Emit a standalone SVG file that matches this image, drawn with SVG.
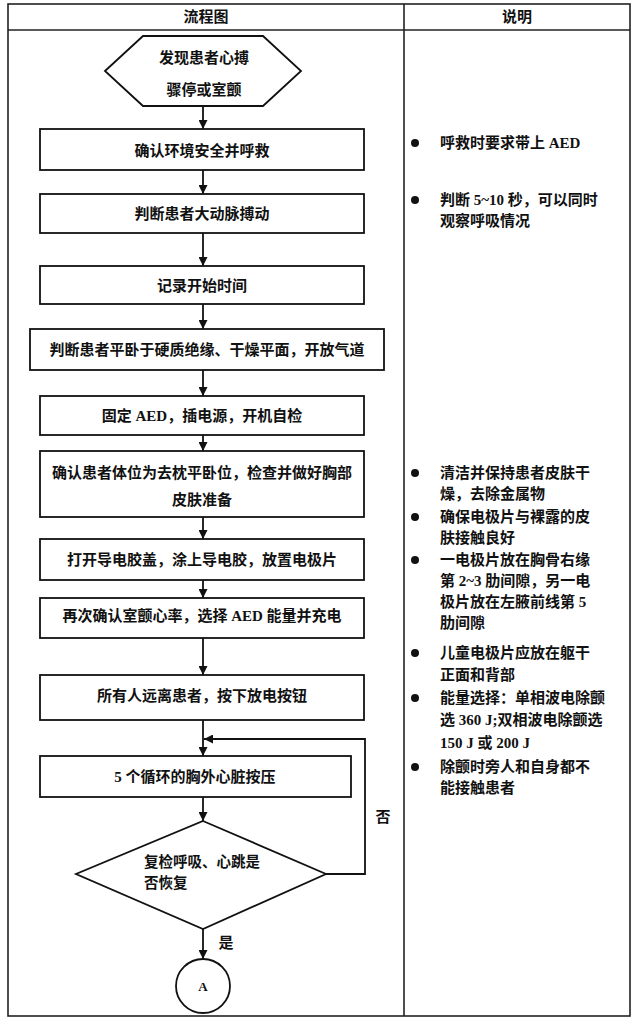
<svg xmlns="http://www.w3.org/2000/svg" width="637" height="1024" viewBox="0 0 637 1024">
<style>
  .t { font-family: 'Liberation Serif', 'Noto Sans CJK SC', serif; font-size: 15px; font-weight: bold; fill: #111; }
  .c { text-anchor: middle; dominant-baseline: central; }
  .l { text-anchor: start; dominant-baseline: central; }
  .box { fill: #fff; stroke: #111; stroke-width: 1.8; }
  .grid { fill: none; stroke: #222; stroke-width: 1.6; }
  .conn { fill: none; stroke: #111; stroke-width: 1.8; }
  .dot { fill: #111; }
</style>
<defs>
  <marker id="arr" markerUnits="userSpaceOnUse" markerWidth="9" markerHeight="9" refX="9" refY="4.5" orient="auto">
    <path d="M0,0 L9,4.5 L0,9 z" fill="#111"/>
  </marker>
</defs>
<rect width="637" height="1024" fill="#fff"/>
<g id="table">
  <rect class="grid" x="8" y="4" width="622" height="1012"/>
  <line class="grid" x1="8" y1="30" x2="630" y2="30"/>
  <line class="grid" x1="404" y1="4" x2="404" y2="1016"/>
  <text class="t c" x="206" y="17">流程图</text>
  <text class="t c" x="517" y="17">说明</text>
</g>
<g id="connectors">
  <line class="conn" x1="203" y1="106" x2="203" y2="129" marker-end="url(#arr)"/>
  <line class="conn" x1="203" y1="170" x2="203" y2="194" marker-end="url(#arr)"/>
  <line class="conn" x1="203" y1="233" x2="203" y2="266" marker-end="url(#arr)"/>
  <line class="conn" x1="203" y1="304" x2="203" y2="329" marker-end="url(#arr)"/>
  <line class="conn" x1="203" y1="370" x2="203" y2="396" marker-end="url(#arr)"/>
  <line class="conn" x1="203" y1="435" x2="203" y2="451" marker-end="url(#arr)"/>
  <line class="conn" x1="203" y1="517" x2="203" y2="539" marker-end="url(#arr)"/>
  <line class="conn" x1="203" y1="580" x2="203" y2="598" marker-end="url(#arr)"/>
  <line class="conn" x1="203" y1="638" x2="203" y2="675" marker-end="url(#arr)"/>
  <line class="conn" x1="203" y1="720" x2="203" y2="756" marker-end="url(#arr)"/>
  <line class="conn" x1="203" y1="797" x2="203" y2="821" marker-end="url(#arr)"/>
  <polyline class="conn" points="326,874 365,874 365,739 204,739" marker-end="url(#arr)"/>
  <line class="conn" x1="203" y1="929" x2="203" y2="959" marker-end="url(#arr)"/>
  <text class="t c" x="383" y="817">否</text>
  <text class="t c" x="226" y="943">是</text>
</g>
<g id="n0">
  <polygon class="box" points="105,71 143,36 263,36 301,71 263,106 143,106"/>
  <text class="t c" x="204" y="58">发现患者心搏</text>
  <text class="t c" x="204" y="90">骤停或室颤</text>
</g>
<g id="n1">
  <rect class="box" x="40" y="129" width="324" height="41"/>
  <text class="t c" x="202" y="151">确认环境安全并呼救</text>
</g>
<g id="n2">
  <rect class="box" x="40" y="194" width="324" height="39"/>
  <text class="t c" x="202" y="214">判断患者大动脉搏动</text>
</g>
<g id="n3">
  <rect class="box" x="40" y="266" width="324" height="38"/>
  <text class="t c" x="202" y="286">记录开始时间</text>
</g>
<g id="n4">
  <rect class="box" x="30" y="329" width="354" height="41"/>
  <text class="t c" x="207" y="350">判断患者平卧于硬质绝缘、干燥平面，开放气道</text>
</g>
<g id="n5">
  <rect class="box" x="40" y="396" width="324" height="39"/>
  <text class="t c" x="202" y="416">固定 AED，插电源，开机自检</text>
</g>
<g id="n6">
  <rect class="box" x="40" y="451" width="324" height="66"/>
  <text class="t c" x="202" y="473">确认患者体位为去枕平卧位，检查并做好胸部</text>
  <text class="t c" x="202" y="500">皮肤准备</text>
</g>
<g id="n7">
  <rect class="box" x="40" y="539" width="324" height="41"/>
  <text class="t c" x="202" y="560">打开导电胶盖，涂上导电胶，放置电极片</text>
</g>
<g id="n8">
  <rect class="box" x="40" y="598" width="324" height="40"/>
  <text class="t c" x="202" y="616">再次确认室颤心率，选择 AED 能量并充电</text>
</g>
<g id="n9">
  <rect class="box" x="40" y="675" width="324" height="45"/>
  <text class="t c" x="202" y="696">所有人远离患者，按下放电按钮</text>
</g>
<g id="n10">
  <rect class="box" x="40" y="756" width="311" height="41"/>
  <text class="t c" x="195" y="777">5 个循环的胸外心脏按压</text>
</g>
<g id="n11">
  <polygon class="box" points="203,821 326,874 203,929 76,874"/>
  <text class="t l" x="144" y="862" style="font-size:14.5px">复检呼吸、心跳是</text>
  <text class="t l" x="144" y="883" style="font-size:14.5px">否恢复</text>
</g>
<g id="n12">
  <circle class="box" cx="203" cy="986" r="27"/>
  <text class="t c" x="203" y="986" style="font-size:13px">A</text>
</g>
<g id="notes">
  <circle class="dot" cx="415" cy="143" r="4"/>
  <text class="t l" x="440" y="143">呼救时要求带上 AED</text>
  <circle class="dot" cx="415" cy="200" r="4"/>
  <text class="t l" x="440" y="200">判断 5~10 秒，可以同时</text>
  <text class="t l" x="440" y="221">观察呼吸情况</text>
  <circle class="dot" cx="415" cy="473" r="4"/>
  <text class="t l" x="440" y="473">清洁并保持患者皮肤干</text>
  <text class="t l" x="440" y="494">燥，去除金属物</text>
  <circle class="dot" cx="415" cy="517" r="4"/>
  <text class="t l" x="440" y="517">确保电极片与裸露的皮</text>
  <text class="t l" x="440" y="538">肤接触良好</text>
  <circle class="dot" cx="415" cy="560" r="4"/>
  <text class="t l" x="440" y="560">一电极片放在胸骨右缘</text>
  <text class="t l" x="440" y="581">第 2~3 肋间隙，另一电</text>
  <text class="t l" x="440" y="602">极片放在左腋前线第 5</text>
  <text class="t l" x="440" y="623">肋间隙</text>
  <circle class="dot" cx="415" cy="653" r="4"/>
  <text class="t l" x="440" y="653">儿童电极片应放在躯干</text>
  <text class="t l" x="440" y="675">正面和背部</text>
  <circle class="dot" cx="415" cy="698" r="4"/>
  <text class="t l" x="440" y="698">能量选择：单相波电除颤</text>
  <text class="t l" x="440" y="720">选 360 J;双相波电除颤选</text>
  <text class="t l" x="440" y="743">150 J 或 200 J</text>
  <circle class="dot" cx="415" cy="767" r="4"/>
  <text class="t l" x="440" y="767">除颤时旁人和自身都不</text>
  <text class="t l" x="440" y="788">能接触患者</text>
</g>
</svg>
